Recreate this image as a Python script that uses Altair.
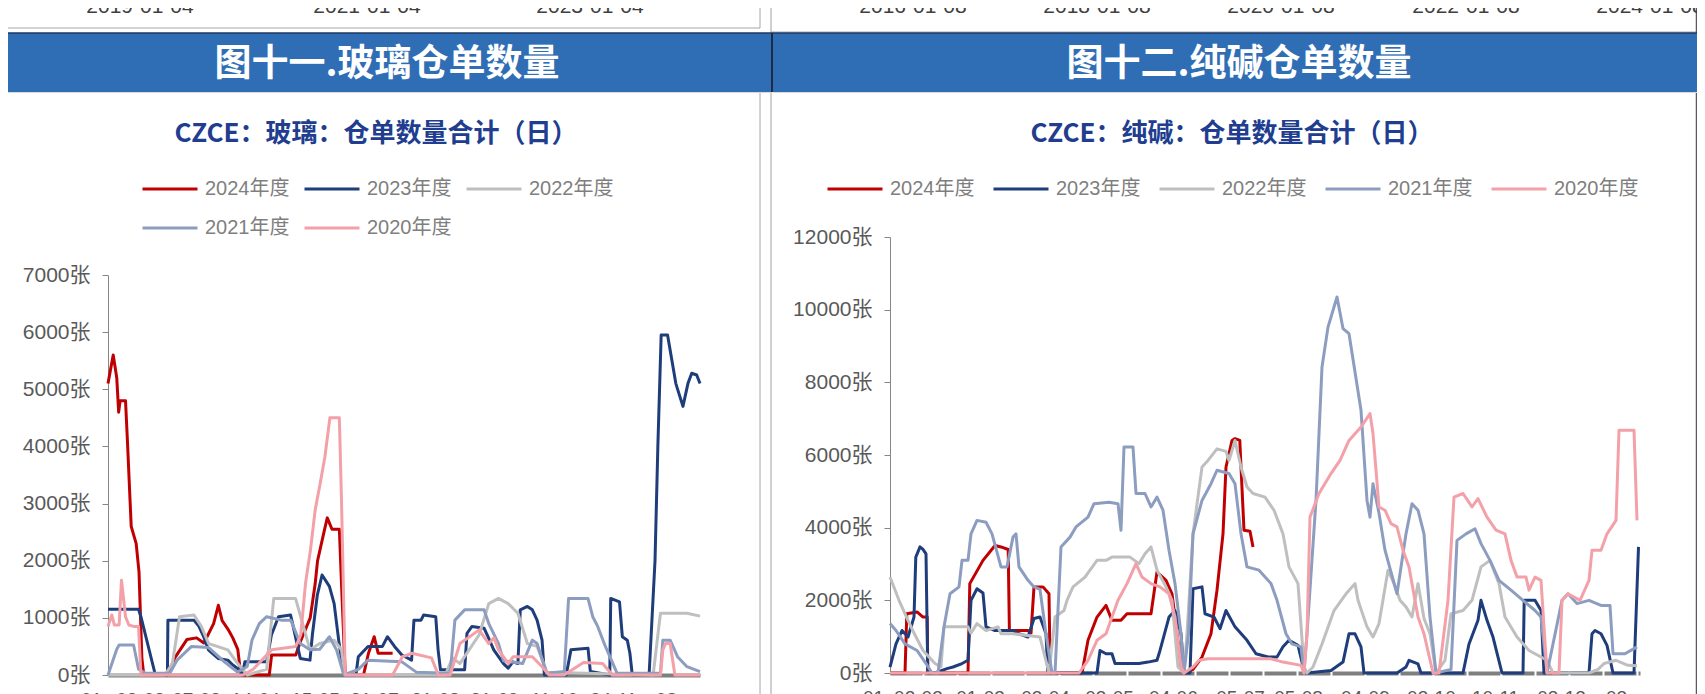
import altair as alt
import pandas as pd

SERIES = ["2024年度", "2023年度", "2022年度", "2021年度", "2020年度"]
COLORS = ["#C00000", "#1F3D7A", "#BFBFBF", "#8C9DC0", "#F3A0A8"]
WIDTHS = [3, 3, 2.6, 2.6, 2.6]

# ---------------- glass (left) : (trading-day index, 张) ----------------
glass_2024 = [(0, 5100), (2.2, 5600), (3.7, 5200), (4.5, 4600), (5.1, 4800), (7.4, 4800), (8.2, 4100),
              (9.8, 2600), (11.9, 2300), (13.1, 1800), (14.3, 300), (15.1, 0), (25.1, 0), (28.2, 300),
              (33.3, 620), (37.4, 650), (40.5, 560), (44.6, 900), (46.6, 1220), (48.2, 950), (50.7, 800),
              (52.7, 650), (54.8, 450), (55.8, 100), (56.8, 0), (68.1, 0), (69.1, 350), (79.3, 350),
              (81.4, 600), (85.4, 1000), (87.5, 1600), (88.5, 2000), (91.2, 2500), (92.6, 2750), (94.6, 2550),
              (97.7, 2550), (98.7, 1500), (100.2, 0), (107.9, 0), (110.0, 380), (112.4, 670), (114.1, 380),
              (120.2, 380)]
glass_2023 = [(0, 1150), (12.9, 1150), (13.9, 1020), (20, 0), (25.1, 0), (25.3, 960), (36.3, 960), (38.4, 850),
              (40.4, 670), (42.4, 440), (46.5, 290), (50.6, 260), (52.7, 175), (54.7, 115), (56.7, 0),
              (57.8, 230), (67, 230), (69, 700), (72, 1020), (77.1, 1050), (78.2, 850), (81.2, 290), (85.3, 260),
              (86.3, 700), (88.4, 1400), (90.4, 1750), (93.5, 1550), (95.5, 1250), (97.6, 550), (99.6, 0),
              (104.7, 0), (105.7, 320), (109.8, 500), (115.9, 500), (118, 670), (121, 500), (124.1, 350),
              (128.2, 260), (129.2, 960), (132.2, 960), (133.3, 1050), (138.4, 1020), (139.4, 440), (140.4, 90),
              (150.6, 90), (151.6, 730), (153.7, 850), (158.8, 820), (160.8, 640), (162.9, 440), (167, 200),
              (169, 120), (171, 230), (173.1, 200), (174.1, 1140), (177.1, 1200), (179.2, 1140), (181.2, 960),
              (183.3, 610), (184.3, 0), (193.5, 0), (195.5, 440), (202.7, 470), (203.7, 60), (211.9, 0),
              (212.3, 1340), (216, 1280), (217.2, 670), (219.3, 610), (220.4, 380), (221.4, 0), (228.5, 0),
              (231, 2000), (232.2, 4000), (233.6, 5950), (236.3, 5950), (239.8, 5100), (242.8, 4700),
              (244.9, 5100), (246.5, 5280), (248.6, 5250), (250, 5100)]
glass_2022 = [(0, 0), (24, 0), (27.2, 200), (30.2, 1020), (36.3, 1050), (39.4, 850), (42.5, 550), (50.6, 440),
              (54.8, 200), (58.8, 0), (67, 100), (70, 1340), (79.2, 1340), (82.2, 900), (85.3, 440), (89.4, 550),
              (95.5, 610), (98.6, 440), (100, 0), (142.4, 0), (145.5, 300), (148.6, 200), (156.7, 700),
              (160.8, 1250), (164.9, 1340), (169, 1250), (173.1, 1080), (177.1, 550), (181.2, 500), (185.3, 50),
              (230.2, 0), (233.3, 1080), (244.5, 1080), (250, 1030)]
glass_2021 = [(0, 0), (3.7, 450), (4.7, 525), (10.8, 525), (12.9, 100), (15.9, 30), (26.1, 30), (29.2, 260),
              (35.3, 500), (42.5, 480), (48.6, 250), (54.7, 50), (58.8, 150), (60.8, 610), (63.9, 900),
              (67, 1020), (73.1, 960), (77.2, 960), (81.2, 550), (85.3, 440), (89.4, 450), (93.5, 670),
              (96.5, 440), (99.6, 0), (105.7, 100), (109.8, 260), (124.1, 230), (130.2, 50), (144.5, 30),
              (146.5, 960), (150.6, 1140), (158.8, 1140), (160.8, 900), (164.9, 550), (167, 250), (175.1, 200),
              (179.2, 610), (181.2, 550), (185.3, 30), (192.7, 60), (194.5, 1340), (202.7, 1340), (204.7, 1020),
              (206.8, 850), (209.8, 525), (212.9, 230), (215, 30), (233.3, 30), (234.3, 610), (237.4, 610),
              (240.5, 320), (244.5, 145), (250, 60)]
glass_2020 = [(0, 850), (1.6, 1050), (2.7, 875), (4.7, 875), (5.7, 1660), (7.4, 1020), (8.8, 875), (10.8, 850),
              (12.9, 850), (13.9, 0), (57, 0), (61.3, 100), (69.1, 440), (79.3, 500), (81.4, 700), (83.4, 1600),
              (85.5, 2190), (87.5, 2890), (89.6, 3350), (91.6, 3820), (93.7, 4500), (97.7, 4500), (98.6, 3060),
              (100.2, 0), (120.2, 0), (124.3, 320), (128.4, 380), (136.6, 300), (139.5, 0), (144.5, 0),
              (148.6, 550), (152.7, 670), (156.7, 790), (160.8, 550), (163, 650), (164.9, 440), (169.1, 200),
              (171.1, 320), (179.2, 320), (183.2, 150), (186.3, 0), (192.6, 0), (200.8, 220), (208.9, 200),
              (213, 0), (233.3, 0), (234.3, 440), (235.4, 550), (237.4, 550), (239.4, 0), (250, 0)]

# ---------------- soda ash (right) ----------------
soda_2024 = [(0, 0), (5, 0), (5.6, 1630), (9, 1680), (11, 1540), (12.4, 1540), (12.6, 0), (26, 0), (26.6, 2460),
             (31, 3100), (35, 3510), (37, 3470), (39.4, 3400), (39.8, 1170), (46, 1170), (47, 1100), (48, 2370),
             (51, 2370), (53, 2180), (53.4, 0), (64, 0), (66, 900), (69, 1540), (72, 1860), (74, 1450), (77, 1450),
             (79, 1630), (87, 1630), (89, 2780), (92, 2550), (94, 2180), (95, 1540), (97, 200), (98, 0), (101, 100),
             (104, 440), (107, 1080), (109, 2280), (111, 3830), (112, 5670), (114, 6400), (115, 6450),
             (116.6, 6400), (117, 5670), (118, 3930), (120, 3900), (121, 3470)]
soda_2023 = [(0, 165), (2, 800), (4, 1170), (6, 990), (8, 1540), (8.6, 3190), (10, 3470), (11, 3400), (12, 3280),
             (12.6, 0), (15, 0), (19, 120), (21, 165), (24, 260), (26, 350), (27, 2000), (29, 2320), (31, 2200),
             (32, 1270), (35, 1170), (41, 1170), (43, 1080), (46, 990), (48, 1500), (50, 1540), (52, 1080),
             (52.6, 0), (69, 0), (70, 620), (72, 530), (74, 530), (75, 260), (83, 260), (86, 300), (89, 350),
             (90, 620), (93, 1540), (95, 1720), (97, 1080), (98, 0), (100, 0), (101, 2320), (104, 2370),
             (105, 1630), (108, 1540), (110, 1220), (112, 1720), (115, 1270), (119, 900), (122, 530), (126, 440),
             (129, 440), (131, 720), (133, 900), (136, 760), (138, 70), (139, 0), (147, 70), (151, 300),
             (153, 1080), (155, 1080), (157, 720), (158, 0), (169, 0), (172, 165), (173, 350), (176, 250),
             (177, 0), (191, 0), (193, 800), (196, 1450), (197, 2000), (199, 1450), (201, 990), (204, 0),
             (211, 0), (211.4, 2000), (215, 2000), (217, 1720), (218, 0), (233, 0), (234, 1080), (235, 1170),
             (237, 1080), (239, 760), (241, 0), (248, 0), (249.5, 3470)]
soda_2022 = [(0, 2640), (3, 2000), (6, 1450), (8, 1100), (11, 620), (15, 260), (17, 165), (18, 1270), (26, 1270),
             (27, 1100), (29, 1360), (32, 1170), (36, 1270), (37, 1080), (41, 1080), (50, 990), (53, 0),
             (55, 1540), (58, 1720), (59, 2000), (61, 2370), (65, 2640), (69, 3100), (72, 3100), (74, 3190),
             (80, 3190), (83, 3010), (85, 3280), (87, 3470), (89, 2830), (92, 2370), (94, 2000), (96, 165),
             (98, 0), (99, 1080), (101, 3830), (104, 5670), (106, 5850), (109, 6170), (112, 6100), (113, 5850),
             (115, 6400), (117, 5670), (119, 5120), (121, 4940), (125, 4840), (128, 4480), (131, 3830),
             (133, 2920), (136, 2460), (138, 165), (139, 0), (141, 165), (144, 800), (148, 1720), (152, 2180),
             (155, 2460), (156, 2000), (159, 1270), (161, 990), (163, 1360), (166, 2830), (168, 2460), (170, 2000),
             (172, 1820), (174, 1540), (176, 2460), (178, 1500), (180, 1080), (182, 0), (185, 350), (187, 1630),
             (191, 1720), (194, 2000), (197, 2920), (200, 3100), (203, 2460), (205, 1540), (209, 990), (213, 620),
             (217, 440), (219, 350), (221, 0), (233, 0), (236, 100), (238, 260), (242, 350), (246, 210),
             (249, 200)]
soda_2021 = [(0, 1360), (2, 1170), (5, 800), (9, 620), (12, 260), (14, 0), (16, 0), (18, 1270), (20, 2180),
             (23, 2370), (24, 3100), (26, 3100), (27, 3830), (29, 4200), (32, 4150), (34, 3830), (37, 2920),
             (39, 2920), (41, 3740), (42, 3830), (43, 2920), (46, 2550), (48, 2370), (50, 2300), (52, 1080),
             (54, 0), (55, 0), (57, 3470), (60, 3740), (62, 4020), (66, 4290), (68, 4660), (73, 4700), (76, 4660),
             (77, 3930), (78, 6220), (81, 6220), (82, 4940), (85, 4940), (87, 4570), (89, 4840), (91, 4480),
             (93, 3380), (95, 2460), (97, 1080), (98, 0), (99.5, 1080), (101, 3830), (104, 4750), (107, 5210),
             (109, 5580), (113, 5490), (115, 5210), (117, 3830), (119, 2920), (123, 2830), (127, 2460),
             (129, 2000), (132, 1080), (134, 800), (137, 720), (138, 0), (139, 1080), (142, 4750), (144, 8420),
             (146, 9520), (149, 10350), (151, 9480), (153, 9340), (157, 7230), (159, 4750), (160, 4290),
             (161, 5210), (163, 4400), (165, 3380), (169, 2180), (172, 3830), (174, 4660), (176, 4480),
             (178, 3830), (180, 1540), (182, 0), (187, 100), (189, 3650), (192, 3830), (195, 3970), (197, 3560),
             (200, 3100), (203, 2550), (207, 2280), (211, 2000), (215, 1720), (217, 1540), (219, 0), (224, 2000),
             (226, 2180), (229, 1910), (233, 2000), (237, 1860), (240, 1860), (241, 530), (245, 530), (249, 720)]
soda_2020 = [(0, 0), (63, 0), (66, 350), (69, 900), (72, 1080), (76, 2000), (79, 2460), (82, 3010), (84, 2640),
             (87, 2460), (90, 2370), (93, 2180), (95, 1540), (97, 165), (98, 0), (101, 165), (103, 350),
             (106, 390), (127, 390), (131, 300), (137, 210), (138, 0), (139, 1080), (140, 4290), (143, 4940),
             (147, 5490), (150, 5850), (153, 6400), (157, 6770), (160, 7140), (161, 6590), (163, 4570),
             (165, 4480), (167, 4110), (169, 4020), (171, 3380), (173, 2920), (176, 1540), (178, 1080), (181, 0),
             (183, 0), (186, 2000), (188, 4840), (191, 4940), (194, 4570), (196, 4800), (199, 4290), (202, 3930),
             (205, 3830), (207, 3100), (209, 2640), (212, 2640), (213, 2280), (215, 2640), (217, 2550), (219, 0),
             (223, 0), (224, 2000), (226, 2180), (230, 2000), (233, 2550), (234, 3380), (237, 3380), (239, 3830),
             (242, 4200), (243, 6680), (248, 6680), (249, 4200)]

# tick labels (x axes, partly cut off in the reference)
glass_tick_days = [0, 13.5, 37.2, 62.1, 87.4, 112.3, 138.1, 163, 188.3, 213.3, 235.6]
glass_tick_labels = ["01-", "03-03", "07-03", "14-04", "15-05", "21-07", "21-08", "21-09", "11-10", "24-11", "08"]
soda_tick_days = [0, 9.3, 30, 51.7, 73, 94.3, 116.7, 136, 158.3, 180.3, 201.7, 223.7, 242]
soda_tick_labels = ["01-", "02-03", "01-03", "03-04", "03-05", "04-06", "05-07", "05-08", "04-09", "03-10",
                    "10-11", "03-12", "03"]
glass_y_ticks = [0, 1000, 2000, 3000, 4000, 5000, 6000, 7000]
soda_y_ticks = [0, 2000, 4000, 6000, 8000, 10000, 12000]

# previous charts' date labels at the very top (cut off)
prev_left_labels = ["2019-01-04", "2021-01-04", "2023-01-04"]
prev_left_x = [132, 359, 582]
prev_right_labels = ["2016-01-08", "2018-01-08", "2020-01-08", "2022-01-08", "2024-01-08"]
prev_right_x = [905, 1089, 1273, 1458, 1642]

FONT = "Liberation Sans, Noto Sans CJK SC"
CJK = "Noto Sans CJK SC"
HEADER_BLUE = "#2F6EB5"


def long_df(all_pairs):
    rows = []
    for name, pairs in zip(SERIES, all_pairs):
        for i, (d, v) in enumerate(pairs):
            rows.append({"series": name, "day": d, "value": v, "i": i})
    return pd.DataFrame(rows)


glass_df = long_df([glass_2024, glass_2023, glass_2022, glass_2021, glass_2020])
soda_df = long_df([soda_2024, soda_2023, soda_2022, soda_2021, soda_2020])


def label_expr(days, labels):
    arr = "[" + ",".join("'%s'" % l for l in labels) + "]"
    idx = "[" + ",".join(str(d) for d in days) + "]"
    return "%s[indexof(%s, datum.value)]" % (arr, idx)


def line_layer(df, x_range, y_dom, y_range, y_ticks, y_off, x_off, tdays, tlabels, dash, legend):
    x_axis_kw = dict(orient="bottom", offset=x_off, values=tdays, labelExpr=label_expr(tdays, tlabels),
                     domainColor="#7F7F7F", domainWidth=4, ticks=False, labelFontSize=19,
                     labelColor="#595959", labelFont=FONT, labelPadding=15, labelOverlap=False,
                     labelFlush=False, grid=False, title=None,
                     labelAlign={"condition": {"test": "datum.value == 0", "value": "right"}, "value": "center"})
    if dash:
        x_axis_kw["domainDash"] = dash
    return alt.Chart(df).mark_line(strokeJoin="round").encode(
        x=alt.X("day:Q", scale=alt.Scale(domain=[0, 250], range=x_range, nice=False, zero=False),
                axis=alt.Axis(**x_axis_kw)),
        y=alt.Y("value:Q", scale=alt.Scale(domain=y_dom, range=y_range, nice=False),
                axis=alt.Axis(orient="left", offset=y_off, values=y_ticks,
                              labelExpr="datum.value + '张'", domainColor="#868686",
                              tickColor="#868686", tickSize=6, labelFontSize=21, labelColor="#595959",
                              labelFont=FONT, labelPadding=12, grid=False, title=None)),
        color=alt.Color("series:N", scale=alt.Scale(domain=SERIES, range=COLORS), legend=legend),
        strokeWidth=alt.StrokeWidth("series:N", scale=alt.Scale(domain=SERIES, range=WIDTHS), legend=None),
        order=alt.Order("i:Q"),
    )


def make_legend(x, y, cols, colpad):
    return alt.Legend(orient="none", legendX=x, legendY=y, columns=cols, direction="horizontal",
                      symbolType="stroke", symbolSize=3025, symbolStrokeWidth=3.5,
                      labelFontSize=20, labelColor="#7F7F7F", labelFont=FONT, labelOffset=6,
                      columnPadding=colpad, rowPadding=-14, padding=0, title=None)


glass_lines = line_layer(glass_df, [100, 692], [0, 7000], [667, 267], glass_y_ticks, -100, 0,
                         glass_tick_days, glass_tick_labels, None, make_legend(133, 152, 3, 8))
soda_lines = line_layer(soda_df, [882, 1632], [0, 12000], [665, 229], soda_y_ticks, -882, -2,
                        soda_tick_days, soda_tick_labels, [32, 2], make_legend(818, 152, 5, 12))

dummy = pd.DataFrame({"k": [0]})
base = alt.Chart(dummy)


def rect(x, x2, y, y2, color):
    return base.mark_rect(color=color).encode(x=alt.value(x), x2=alt.value(x2), y=alt.value(y), y2=alt.value(y2))


def vrule(x, y, y2, color, w=1):
    return base.mark_rule(color=color, strokeWidth=w).encode(x=alt.value(x), y=alt.value(y), y2=alt.value(y2))


def hrule(y, x, x2, color, w=1):
    return base.mark_rule(color=color, strokeWidth=w).encode(y=alt.value(y), x=alt.value(x), x2=alt.value(x2))


def text(t, x, y, size, color, weight="normal", font=CJK):
    return base.mark_text(text=t, fontSize=size, color=color, fontWeight=weight, font=font,
                          align="center", baseline="middle").encode(x=alt.value(x), y=alt.value(y))


decor = [
    vrule(752, 0, 20, "#A6A6A6"),
    hrule(20, 0, 752, "#A6A6A6"),
    hrule(24, 763, 1697, "#A6A6A6"),
    vrule(763, 0, 686, "#A0A0A0"),
    vrule(752, 84, 686, "#A6A6A6"),
    vrule(1688.5, 0, 686, "#595959", 1.5),
    rect(0, 763, 25, 84, HEADER_BLUE),
    rect(765, 1697, 25, 84, HEADER_BLUE),
    hrule(25, 0, 1697, "#1F3864", 1.5),
    vrule(764, 25, 84, "#1F2A44", 2),
    hrule(84.5, 0, 763, "#D9D9D9", 1),
    hrule(84.5, 765, 1697, "#D9D9D9", 1),
]
for lab, xx in zip(prev_left_labels, prev_left_x):
    decor.append(base.mark_text(text=lab, fontSize=21, color="#404040", font=FONT, align="center",
                                baseline="alphabetic").encode(x=alt.value(xx), y=alt.value(5)))
for lab, xx in zip(prev_right_labels, prev_right_x):
    decor.append(base.mark_text(text=lab, fontSize=21, color="#404040", font=FONT, align="center",
                                baseline="alphabetic").encode(x=alt.value(xx), y=alt.value(5)))

titles = [
    text("图十一.玻璃仓单数量", 379, 57, 37, "white", "bold"),
    text("图十二.纯碱仓单数量", 1231, 57, 37, "white", "bold"),
    text("CZCE：玻璃：仓单数量合计（日）", 368, 126, 26, "#203D8F", "bold"),
    text("CZCE：纯碱：仓单数量合计（日）", 1224, 126, 26, "#203D8F", "bold"),
]

chart = alt.layer(*decor, glass_lines, soda_lines, *titles).resolve_scale(
    x="independent", y="independent", color="independent", strokeWidth="independent"
).properties(
    width=1689, height=667,
    autosize=alt.AutoSizeParams(type="none"),
    padding={"left": 0, "top": 0, "right": 0, "bottom": 25},
).configure_view(strokeWidth=0)

chart.save("out.html", embed_options={"renderer": "svg", "actions": False})
